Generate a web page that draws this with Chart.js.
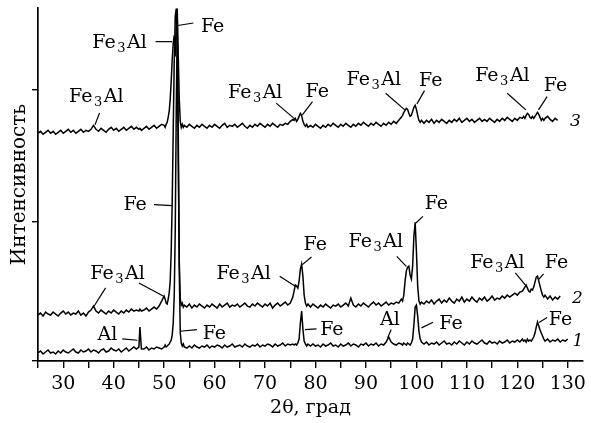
<!DOCTYPE html>
<html>
<head>
<meta charset="utf-8">
<script src="https://cdn.jsdelivr.net/npm/chart.js@4.4.1/dist/chart.umd.min.js"></script>
<style>
  html, body { margin: 0; padding: 0; background: #fff; }
  #wrap { width: 591px; height: 423px; }
</style>
</head>
<body>
<div id="wrap"><canvas id="xrd" width="591" height="423"></canvas></div>
<script>
// 2θ grid, degrees (denser near the peaks)
const twoTheta = [
  25, 25.5, 26, 26.5, 27, 27.5, 28, 28.5, 29, 29.5, 30, 30.5, 31, 31.5, 32, 32.5, 33, 33.5, 34, 34.5,
  35, 35.5, 36, 36.5, 37, 37.5, 38, 38.5, 39, 39.5, 40, 40.5, 41, 41.5, 42, 42.5, 43, 43.5, 44, 44.5,
  45, 45.2, 45.5,
  46, 46.5, 47, 47.5, 48, 48.5, 49, 49.5,
  50, 50.2, 50.4, 50.6, 50.8, 51, 51.2, 51.4, 51.6, 51.8, 52, 52.2, 52.4, 52.6, 52.8, 53, 53.2, 53.4, 53.6, 53.8, 54,
  54.5, 55, 55.5, 56, 56.5, 57, 57.5, 58, 58.5, 59, 59.5, 60, 60.5, 61, 61.5, 62, 62.5, 63, 63.5, 64,
  64.5, 65, 65.5, 66, 66.5, 67, 67.5, 68, 68.5, 69, 69.5, 70, 70.5, 71, 71.5, 72, 72.5, 73, 73.5, 74, 74.5, 75, 75.5,
  75.75, 76, 76.25, 76.5, 76.75, 77, 77.25, 77.5, 77.75, 78, 78.25, 78.5,
  79, 79.5, 80, 80.5, 81, 81.5, 82, 82.5, 83, 83.5, 84, 84.5, 85, 85.5, 86, 86.5, 87, 87.5, 88, 88.5,
  89, 89.5, 90, 90.5, 91, 91.5, 92, 92.5, 93, 93.5, 94, 94.5, 95, 95.5, 96, 96.5, 97,
  97.25, 97.5, 97.75, 98, 98.25, 98.5, 98.75, 99, 99.25, 99.5, 99.75, 100, 100.25, 100.5, 100.75, 101,
  101.5, 102, 102.5, 103, 103.5, 104, 104.5, 105, 105.5, 106, 106.5, 107, 107.5, 108, 108.5, 109, 109.5, 110, 110.5, 111,
  111.5, 112, 112.5, 113, 113.5, 114, 114.5, 115, 115.5, 116, 116.5, 117, 117.5, 118, 118.5, 119, 119.5, 120, 120.5, 121,
  121.25, 121.5, 121.75, 122, 122.25, 122.5, 122.75, 123, 123.25, 123.5, 123.75, 124, 124.25, 124.5, 124.75, 125, 125.25, 125.5,
  126, 126.5, 127, 127.5, 128, 128.5, 129, 129.5, 130
];

// intensity, arbitrary units, curves already shifted up as in the figure
const curve1 = [
  8, 10, 7, 9, 11, 8, 9, 7, 10, 8, 11, 9, 8, 10, 12, 9, 8, 11, 9, 10,
  12, 9, 11, 10, 8, 11, 12, 9, 10, 13, 11, 10, 12, 9, 11, 13, 10, 12, 14, 12,
  14, 34, 12,
  12, 14, 11, 13, 12, 14, 13, 12,
  14, 16, 14, 15, 16, 17, 19, 21, 26, 38, 65, 130, 250, 335, 230, 90, 28, 18, 15, 17, 14,
  13, 15, 13, 16, 14, 13, 15, 14, 16, 13, 15, 14, 16, 15, 13, 16, 14, 15, 17, 14,
  15, 16, 14, 17, 15, 14, 16, 15, 17, 14, 16, 15, 17, 16, 14, 17, 15, 16, 18, 15, 17, 16, 17,
  16, 17, 16, 18, 22, 38, 50, 32, 20, 17, 15, 17,
  15, 17, 15, 16, 14, 17, 15, 16, 18, 15, 16, 14, 17, 15, 16, 18, 15, 17, 16, 14,
  17, 16, 18, 15, 17, 16, 18, 15, 17, 16, 19, 24, 19, 17, 16, 18, 17,
  16, 18, 17, 16, 18, 17, 16, 18, 22, 36, 54, 56, 45, 30, 22, 19,
  17, 19, 16, 18, 17, 19, 16, 18, 20, 17, 18, 16, 19, 17, 20, 18, 16, 19, 17, 20,
  18, 17, 19, 21, 18, 17, 20, 18, 19, 17, 20, 18, 19, 21, 18, 20, 19, 21, 19, 22,
  20, 21, 19, 22, 20, 21, 20, 22, 24, 28, 34, 39, 35, 31, 28, 25, 22, 20,
  22, 19, 21, 20, 22, 19, 21, 20, 22
];

const curve2 = [
  46, 48, 45, 49, 47, 46, 49, 47, 45, 48, 50, 47, 49, 46, 48, 47, 50, 46, 48, 45,
  49, 51, 55, 50, 48, 51, 49, 47, 50, 48, 51, 49, 47, 50, 48, 51, 49, 52, 50, 51,
  50, 52, 50,
  51, 53, 50, 52, 54, 52, 55, 60,
  65, 62, 58, 57, 62, 68, 80, 110, 160, 230, 300, 345, 353, 320, 200, 100, 62, 56, 58, 54, 56,
  54, 57, 53, 56, 54, 57, 55, 53, 56, 54, 57, 55, 53, 57, 54, 56, 58, 54, 56, 55,
  57, 54, 56, 58, 55, 54, 57, 55, 58, 56, 54, 57, 55, 58, 53, 56, 58, 55, 57, 59, 56, 58, 64,
  70, 76, 75, 73, 80, 92, 97, 85, 66, 58, 55, 57,
  54, 57, 55, 53, 56, 54, 57, 55, 53, 56, 55, 57, 54, 56, 58, 55, 63, 56, 54, 57,
  55, 58, 56, 54, 57, 59, 56, 58, 55, 57, 59, 56, 58, 57, 59, 58, 62,
  60, 66, 80, 90, 94, 95, 86, 82, 95, 125, 139, 110, 75, 60, 57, 59,
  57, 60, 58, 61, 57, 60, 62, 58, 61, 59, 63, 60, 58, 62, 60, 64, 59, 62, 60, 64,
  61, 59, 63, 61, 64, 60, 62, 65, 61, 63, 62, 65, 63, 66, 64, 66, 68, 66, 69, 70,
  72, 74, 76, 73, 70, 69, 72, 71, 74, 79, 84, 85, 80, 75, 70, 66, 64, 66,
  62, 65, 61, 64, 62, 65, null, null, null
];

const curve3 = [
  228, 230, 227, 229, 231, 228, 230, 227, 229, 231, 228, 230, 232, 229, 231, 228, 230, 232, 229, 231,
  230, 232, 236, 232, 230, 233, 231, 229, 232, 234, 231, 233, 230, 232, 234, 231, 233, 235, 232, 234,
  232, 233, 231,
  233, 235, 232, 234, 236, 233, 235, 237,
  236, 234, 237, 239, 244, 250, 262, 280, 302, 318, 326, 305, 335, 353, 305, 262, 240, 234, 237, 234, 236,
  234, 237, 235, 233, 236, 234, 237, 235, 233, 236, 234, 237, 235, 233, 236, 238, 234, 236, 235, 237,
  234, 236, 238, 235, 233, 236, 234, 237, 235, 238, 236, 234, 237, 235, 238, 236, 234, 237, 236, 238, 237, 240, 242,
  241, 243, 240, 242, 245, 248, 246, 240, 237, 235, 237, 234,
  236, 234, 237, 235, 233, 236, 234, 237, 235, 238, 236, 234, 237, 235, 238, 236, 234, 237, 235, 238,
  236, 239, 237, 235, 238, 236, 239, 237, 235, 238, 236, 239, 237, 240, 238, 241, 244,
  246, 249, 251, 253, 252, 248, 245, 246, 250, 254, 256, 252, 246, 241, 239, 241,
  238, 241, 239, 242, 238, 241, 239, 242, 240, 238, 241, 239, 242, 240, 243, 239, 241, 243, 240, 242,
  239, 241, 243, 240, 242, 240, 243, 241, 239, 242, 240, 243, 241, 244, 242, 240, 243, 241, 244, 243,
  245, 243, 246, 248, 247, 244, 243, 245, 243, 245, 247, 249, 247, 244, 241, 243, 241, 243,
  245, 242, 240, 243, 241, null, null, null, null
];

const xTicks = [25, 30, 35, 40, 45, 50, 55, 60, 65, 70, 75, 80, 85, 90, 95, 100, 105, 110, 115, 120, 125, 130];
const yTicks = [0, 139, 272];

// phase labels: text position and leader lines, in data units
const peakLabels = [
  { text: 'Fe3Al', x: 36.7, y: 266.5, leaders: [[37.2, 248.5, 36.3, 236.5]] },
  { text: 'Fe3Al', x: 41.3, y: 320.5, leaders: [[48.3, 319.8, 51.6, 319.8]] },
  { text: 'Fe', x: 59.75, y: 336.5, leaders: [[52.7, 336, 55.8, 338.5]] },
  { text: 'Fe3Al', x: 68.2, y: 270.5, leaders: [[72.2, 258.2, 76.1, 241.5]] },
  { text: 'Fe', x: 80.5, y: 271.5, leaders: [[79.4, 259.8, 77.4, 246.5]] },
  { text: 'Fe3Al', x: 91.7, y: 283.5, leaders: [[93.9, 268.2, 97.7, 251.5]] },
  { text: 'Fe', x: 103.0, y: 282, leaders: [[101.6, 270.8, 100.1, 257.5]] },
  { text: 'Fe3Al', x: 117.2, y: 287.5, leaders: [[118.0, 268.2, 121.7, 251.5]] },
  { text: 'Fe', x: 127.7, y: 277, leaders: [[125.9, 264.8, 124.2, 251.5]] },

  { text: 'Fe', x: 44.4, y: 158, leaders: [[48.0, 156.5, 51.6, 155.5]] },
  { text: 'Fe3Al', x: 40.9, y: 89, leaders: [[45.0, 78.2, 49.9, 64.8], [38.4, 73.2, 36.1, 54.8]] },
  { text: 'Fe3Al', x: 65.9, y: 89, leaders: [[72.9, 84.8, 76.0, 74.8]] },
  { text: 'Fe', x: 80.1, y: 117.8, leaders: [[79.2, 104.2, 77.4, 96.5]] },
  { text: 'Fe3Al', x: 92.1, y: 120.7, leaders: [[96.1, 104.8, 98.0, 94.8]] },
  { text: 'Fe', x: 104.1, y: 159, leaders: [[101.3, 144.8, 99.9, 138.2]] },
  { text: 'Fe3Al', x: 116.2, y: 99.5, leaders: [[119.6, 88.2, 121.7, 75.5]] },
  { text: 'Fe', x: 127.9, y: 99.8, leaders: [[125.2, 87.2, 124.2, 81.5]] },

  { text: 'Al', x: 38.9, y: 27.5, leaders: [[41.7, 22.2, 44.7, 20.8]] },
  { text: 'Fe', x: 60.1, y: 28.5, leaders: [[53.2, 29.8, 56.5, 31.5]] },
  { text: 'Fe', x: 83.4, y: 33.2, leaders: [[77.9, 31.5, 80.2, 32.2]] },
  { text: 'Al', x: 94.9, y: 42.5, leaders: [[95.0, 31.5, 94.3, 23.2]] },
  { text: 'Fe', x: 107.0, y: 38.5, leaders: [[103.3, 38.8, 101.0, 33.2]] },
  { text: 'Fe', x: 128.7, y: 42.5, leaders: [[124.3, 38.5, 125.9, 43.5]] }
];

const curveNames = [
  { text: '3', x: 131.5, y: 240 },
  { text: '2', x: 131.9, y: 62.5 },
  { text: '1', x: 132.0, y: 19.5 }
];

const SERIF = '"DejaVu Serif", "Liberation Serif", serif';
const LABEL_SIZE = 19;

// draws "Fe3Al" with the digits as subscripts
function drawFormula(ctx, text, cx, cy) {
  const parts = text.match(/\d+|\D+/g);
  const mainFont = LABEL_SIZE + 'px ' + SERIF;
  const subFont = Math.round(LABEL_SIZE * 0.68) + 'px ' + SERIF;
  let total = 0;
  const widths = parts.map(p => {
    ctx.font = /\d/.test(p) ? subFont : mainFont;
    const w = ctx.measureText(p).width + 1.5;
    total += w;
    return w;
  });
  let px = cx - total / 2;
  const base = cy + LABEL_SIZE * 0.36;
  ctx.textAlign = 'left';
  ctx.textBaseline = 'alphabetic';
  parts.forEach((p, i) => {
    const sub = /\d/.test(p);
    ctx.font = sub ? subFont : mainFont;
    ctx.fillText(p, px, sub ? base + 4 : base);
    px += widths[i];
  });
}

const labelPlugin = {
  id: 'peakLabels',
  afterDatasetsDraw(chart) {
    const { ctx } = chart;
    const xs = chart.scales.x, ys = chart.scales.y;
    ctx.save();
    ctx.strokeStyle = '#000';
    ctx.fillStyle = '#000';
    ctx.lineWidth = 1.2;
    peakLabels.forEach(l => {
      l.leaders.forEach(([x1, y1, x2, y2]) => {
        ctx.beginPath();
        ctx.moveTo(xs.getPixelForValue(x1), ys.getPixelForValue(y1));
        ctx.lineTo(xs.getPixelForValue(x2), ys.getPixelForValue(y2));
        ctx.stroke();
      });
      drawFormula(ctx, l.text, xs.getPixelForValue(l.x), ys.getPixelForValue(l.y));
    });
    ctx.font = 'italic 17px ' + SERIF;
    ctx.textAlign = 'center';
    ctx.textBaseline = 'middle';
    curveNames.forEach(n => {
      ctx.fillText(n.text, xs.getPixelForValue(n.x), ys.getPixelForValue(n.y));
    });
    ctx.restore();
  }
};

const toPoints = vals => vals.map((v, i) => ({ x: twoTheta[i], y: v }));

Chart.defaults.font.family = SERIF;
Chart.defaults.color = '#000';

new Chart(document.getElementById('xrd').getContext('2d'), {
  type: 'line',
  data: {
    datasets: [curve1, curve2, curve3].map((vals, i) => ({
      label: String(i + 1),
      data: toPoints(vals),
      borderColor: '#000',
      borderWidth: 1.5,
      pointRadius: 0,
      tension: 0,
      fill: false,
      spanGaps: false
    }))
  },
  options: {
    responsive: false,
    animation: false,
    devicePixelRatio: 1,
    layout: { padding: { top: 8, right: 3, left: 0, bottom: 4 } },
    plugins: {
      legend: { display: false },
      tooltip: { enabled: false }
    },
    scales: {
      x: {
        type: 'linear',
        min: 25,
        max: 133,
        afterBuildTicks: s => { s.ticks = xTicks.map(v => ({ value: v })); },
        afterFit: s => { s.height = 58; },
        ticks: {
          callback: v => (v % 10 === 0 ? String(v) : ''),
          font: { size: 19 },
          color: '#000',
          padding: 5,
          maxRotation: 0,
          autoSkip: false
        },
        grid: { drawOnChartArea: false, drawTicks: true, tickLength: 7, color: '#000', lineWidth: 1.4 },
        border: { display: true, color: '#000', width: 1.7 },
        title: { display: true, text: '2θ, град', font: { size: 19 }, color: '#000', padding: 0 }
      },
      y: {
        type: 'linear',
        min: 0,
        max: 353.5,
        afterBuildTicks: s => { s.ticks = yTicks.map(v => ({ value: v })); },
        afterFit: s => { s.width = 38; },
        ticks: { display: false },
        grid: { drawOnChartArea: false, drawTicks: true, tickLength: 6, color: '#000', lineWidth: 1.4 },
        border: { display: true, color: '#000', width: 1.7 },
        title: { display: true, text: 'Интенсивность', font: { size: 20 }, color: '#000', padding: { top: 8, bottom: 0 } }
      }
    }
  },
  plugins: [labelPlugin]
});
</script>
</body>
</html>
